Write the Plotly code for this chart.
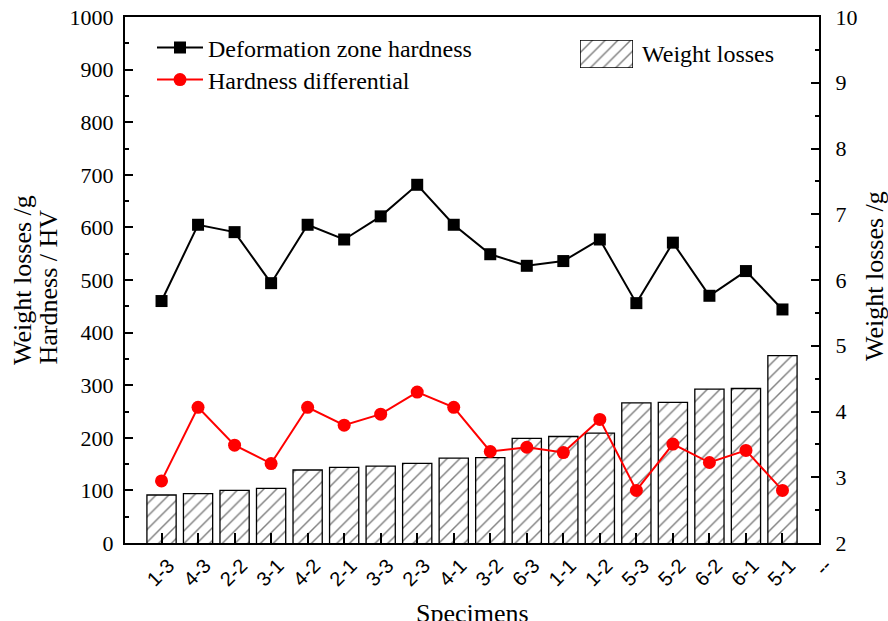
import plotly.graph_objects as go

# Specimen labels and measured values
specimens = ["1-3", "4-3", "2-2", "3-1", "4-2", "2-1", "3-3", "2-3", "4-1",
             "3-2", "6-3", "1-1", "1-2", "5-3", "5-2", "6-2", "6-1", "5-1"]
deform_hardness = [460, 605, 591, 494, 605, 577, 621, 681, 605,
                   549, 527, 536, 577, 456, 571, 470, 517, 444]
hardness_diff = [118, 258, 186, 151, 258, 224, 245, 287, 258,
                 174, 182, 172, 235, 100, 188, 153, 176, 100]
weight_losses = [2.73, 2.75, 2.80, 2.83, 3.11, 3.15, 3.17, 3.21, 3.29,
                 3.30, 3.59, 3.62, 3.67, 4.13, 4.14, 4.34, 4.35, 4.85]

xpos = list(range(1, len(specimens) + 1))
tick_vals = xpos + [len(specimens) + 1]
tick_text = specimens + ["--"]

FONT = "Liberation Serif, Times New Roman, serif"
SANS = "Liberation Sans, Arial, sans-serif"

# plot-area geometry (pixels) used for placing titles and legends
W, H = 888, 621
L, R, T, B = 125, 69, 17, 78
PW, PH = W - L - R, H - T - B


def px(x):
    return (x - L) / PW


def py(y):
    return (H - B - y) / PH


hatch = dict(shape="/", fgcolor="black", bgcolor="white", size=9,
             solidity=0.16)

fig = go.Figure()

fig.add_trace(go.Bar(
    x=xpos, y=weight_losses, name="Weight losses", yaxis="y",
    width=0.8,
    marker=dict(color="white", line=dict(color="black", width=1.3),
                pattern=hatch),
    showlegend=False,
))

# hatched key box for the weight-loss legend
fig.add_trace(go.Bar(
    x=[0], y=[1], xaxis="x2", yaxis="y3", width=1,
    marker=dict(color="white", line=dict(color="black", width=1.5),
                pattern=hatch),
    showlegend=False, hoverinfo="skip",
))

fig.add_trace(go.Scatter(
    x=xpos, y=deform_hardness, name="Deformation zone hardness", yaxis="y2",
    mode="lines+markers",
    line=dict(color="black", width=2),
    marker=dict(symbol="square", size=12, color="black"),
    legend="legend",
))

fig.add_trace(go.Scatter(
    x=xpos, y=hardness_diff, name="Hardness differential", yaxis="y2",
    mode="lines+markers",
    line=dict(color="#ff0000", width=2),
    marker=dict(symbol="circle", size=13, color="#ff0000"),
    legend="legend2",
))

tickfont = dict(family=FONT, size=22, color="black")
xtickfont = dict(family=SANS, size=20, color="black")
legfont = dict(family=FONT, size=24, color="black")

fig.update_layout(
    width=W, height=H,
    margin=dict(l=L, r=R, t=T, b=B, pad=0, autoexpand=False),
    paper_bgcolor="white", plot_bgcolor="white",
    font=dict(family=FONT, color="black"),
    xaxis=dict(
        range=[0, len(specimens) + 1], automargin=False,
        tickmode="array", tickvals=tick_vals, ticktext=tick_text,
        tickangle=-45, tickfont=xtickfont,
        ticklabelshift=7, ticklabelstandoff=1,
        ticks="inside", ticklen=10, tickwidth=2, tickcolor="black",
        showline=True, linecolor="black", linewidth=2, mirror=True,
        showgrid=False, zeroline=False,
    ),
    yaxis=dict(
        range=[2, 10], side="right", automargin=False,
        tickmode="linear", tick0=2, dtick=1,
        tickfont=tickfont, ticklabelstandoff=10,
        ticks="inside", ticklen=8, tickwidth=2, tickcolor="black",
        minor=dict(dtick=0.5, ticks="inside", ticklen=4, tickwidth=1.5,
                   tickcolor="black"),
        showline=True, linecolor="black", linewidth=2,
        showgrid=False, zeroline=False,
    ),
    yaxis2=dict(
        range=[0, 1000], side="left", overlaying="y", automargin=False,
        tickmode="linear", tick0=0, dtick=100,
        tickfont=tickfont, ticklabelstandoff=5,
        ticks="inside", ticklen=8, tickwidth=2, tickcolor="black",
        minor=dict(dtick=50, ticks="inside", ticklen=4, tickwidth=1.5,
                   tickcolor="black"),
        showline=True, linecolor="black", linewidth=2,
        showgrid=False, zeroline=False,
    ),
    xaxis2=dict(domain=[px(580), px(633)], anchor="y3", range=[-0.5, 0.5],
                visible=False, fixedrange=True),
    yaxis3=dict(domain=[py(68), py(40)], anchor="x2", range=[0, 1],
                visible=False, fixedrange=True),
    legend=dict(x=px(152), y=py(48), xanchor="left", yanchor="middle",
                font=legfont, bgcolor="rgba(0,0,0,0)", borderwidth=0,
                itemwidth=46),
    legend2=dict(x=px(152), y=py(80), xanchor="left", yanchor="middle",
                 font=legfont, bgcolor="rgba(0,0,0,0)", borderwidth=0,
                 itemwidth=46),
    showlegend=True,
)

titlefont = dict(family=FONT, size=26, color="black")
annotations = [
    dict(text="Weight losses /g", x=px(22), y=py(367), textangle=-90,
         xanchor="center", yanchor="bottom"),
    dict(text="Hardness / HV", x=px(48), y=py(367), textangle=-90,
         xanchor="center", yanchor="bottom"),
    dict(text="Weight losses /g", x=px(874), y=py(276), textangle=-90,
         xanchor="center", yanchor="middle"),
    dict(text="Specimens", x=px(472), y=py(597), xanchor="center",
         yanchor="top"),
]
for a in annotations:
    fig.add_annotation(xref="paper", yref="paper", showarrow=False,
                       font=titlefont, **a)

# label beside the hatched key box
fig.add_annotation(xref="paper", yref="paper", showarrow=False,
                   text="Weight losses", x=px(640), y=py(54),
                   xanchor="left", yanchor="middle", font=legfont)

fig.write_html("out.html")
